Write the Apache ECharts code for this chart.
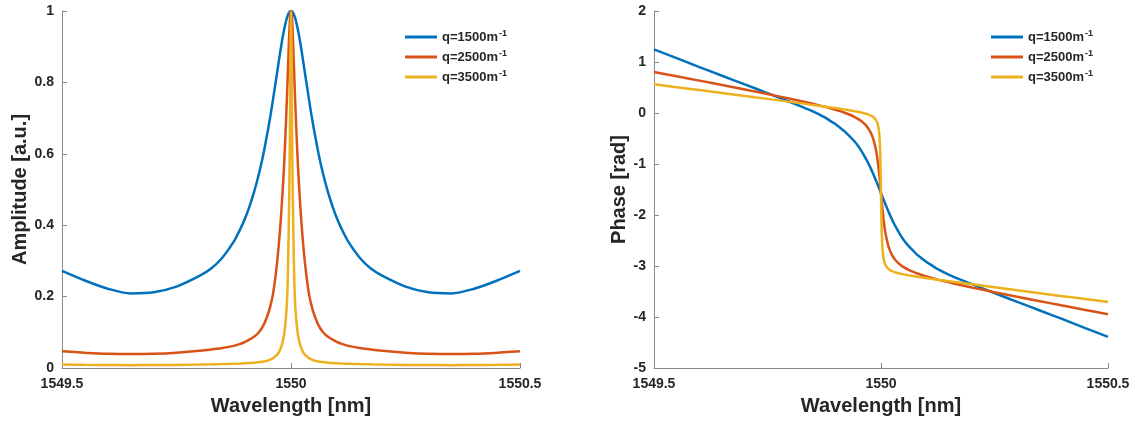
<!DOCTYPE html>
<html>
<head>
<meta charset="utf-8">
<script src="https://cdn.jsdelivr.net/npm/echarts@6/dist/echarts.min.js"></script>
<style>
html,body{margin:0;padding:0;background:#fff;}
#chart{width:1135px;height:424px;}
</style>
</head>
<body>
<div id="chart"></div>
<script>
const wavelength = [1549.5,1549.55,1549.6,1549.65,1549.7,1549.75,1549.8,1549.825,1549.85,1549.875,1549.89,1549.9,1549.91,1549.92,1549.93,1549.94,1549.95,1549.955,1549.96,1549.965,1549.97,1549.975,1549.98,1549.985,1549.99,1549.9925,1549.995,1549.997,1549.998,1549.999,
  1550,
  1550.001,1550.002,1550.003,1550.005,1550.0075,1550.01,1550.015,1550.02,1550.025,1550.03,1550.035,1550.04,1550.045,1550.05,1550.06,1550.07,1550.08,1550.09,1550.1,1550.11,1550.125,1550.15,1550.175,1550.2,1550.25,1550.3,1550.35,1550.4,1550.45,1550.5];

const ampQ1500 = [0.272,0.245,0.222,0.209,0.212,0.228,0.258,0.278,0.309,0.354,0.391,0.42,0.455,0.496,0.544,0.601,0.669,0.706,0.746,0.788,0.83,0.873,0.913,0.948,0.976,0.986,0.994,0.998,0.999,0.9998,
  1,
  0.9998,0.999,0.998,0.994,0.986,0.976,0.948,0.913,0.873,0.83,0.788,0.746,0.706,0.669,0.601,0.544,0.496,0.455,0.42,0.391,0.354,0.309,0.278,0.258,0.228,0.212,0.209,0.222,0.245,0.272];
const ampQ2500 = [0.047,0.043,0.040,0.039,0.040,0.043,0.048,0.052,0.056,0.062,0.068,0.073,0.08,0.088,0.1,0.12,0.152,0.174,0.202,0.245,0.30,0.37,0.46,0.57,0.72,0.806,0.898,0.959,0.981,0.995,
  1,
  0.995,0.981,0.959,0.898,0.806,0.72,0.57,0.46,0.37,0.30,0.245,0.202,0.174,0.152,0.12,0.1,0.088,0.08,0.073,0.068,0.062,0.056,0.052,0.048,0.043,0.040,0.039,0.040,0.043,0.047];
const ampQ3500 = [0.0098,0.0088,0.0082,0.008,0.0082,0.0087,0.0095,0.0102,0.011,0.012,0.0125,0.013,0.014,0.015,0.0165,0.018,0.021,0.024,0.027,0.032,0.038,0.048,0.065,0.094,0.16,0.23,0.387,0.574,0.724,0.903,
  1,
  0.903,0.724,0.574,0.387,0.23,0.16,0.094,0.065,0.048,0.038,0.032,0.027,0.024,0.021,0.018,0.0165,0.015,0.014,0.013,0.0125,0.012,0.011,0.0102,0.0095,0.0087,0.0082,0.008,0.0082,0.0088,0.0098];

const phaseQ1500 = [1.248,1.075,0.9,0.73,0.56,0.39,0.215,0.125,0.03,-0.08,-0.165,-0.22,-0.29,-0.36,-0.45,-0.54,-0.65,-0.718,-0.79,-0.868,-0.95,-1.04,-1.136,-1.239,-1.346,-1.402,-1.458,-1.503,-1.525,-1.548,
  -1.571,
  -1.594,-1.617,-1.639,-1.684,-1.74,-1.796,-1.903,-2.006,-2.102,-2.192,-2.274,-2.352,-2.424,-2.492,-2.602,-2.692,-2.782,-2.852,-2.922,-2.977,-3.062,-3.172,-3.267,-3.357,-3.532,-3.702,-3.872,-4.042,-4.217,-4.39];
const phaseQ2500 = [0.805,0.72,0.635,0.548,0.461,0.372,0.279,0.231,0.18,0.125,0.089,0.063,0.036,0.005,-0.029,-0.069,-0.119,-0.148,-0.184,-0.225,-0.279,-0.346,-0.438,-0.572,-0.779,-0.925,-1.107,-1.28,-1.374,-1.471,
  -1.571,
  -1.67,-1.768,-1.862,-2.035,-2.217,-2.363,-2.569,-2.704,-2.795,-2.863,-2.917,-2.958,-2.993,-3.023,-3.072,-3.112,-3.147,-3.177,-3.205,-3.231,-3.267,-3.321,-3.372,-3.421,-3.513,-3.603,-3.69,-3.776,-3.861,-3.946];
const phaseQ3500 = [0.563,0.506,0.449,0.392,0.334,0.277,0.218,0.189,0.159,0.128,0.109,0.096,0.083,0.069,0.055,0.04,0.023,0.013,0.003,-0.009,-0.023,-0.04,-0.062,-0.096,-0.157,-0.214,-0.322,-0.512,-0.702,-1.038,
  -1.571,
  -2.104,-2.439,-2.63,-2.819,-2.927,-2.985,-3.046,-3.08,-3.102,-3.119,-3.133,-3.144,-3.155,-3.164,-3.181,-3.197,-3.211,-3.225,-3.238,-3.251,-3.27,-3.3,-3.33,-3.36,-3.418,-3.476,-3.533,-3.591,-3.648,-3.705];

const seriesNames = ['q=1500m', 'q=2500m', 'q=3500m'];
const seriesColors = ['#0072BD', '#D95319', '#EDB120'];
const xTickLabels = {'1549.5': '1549.5', '1550': '1550', '1550.5': '1550.5'};

const FONT = '"Liberation Sans", Arial, sans-serif';
const AXIS_COLOR = '#8a8a8a';
const TEXT_COLOR = '#262626';

function zip(xs, ys) { return xs.map((x, i) => [x, ys[i]]); }

function xAxisCfg(gridIndex) {
  return {
    type: 'value', gridIndex: gridIndex,
    min: 1549.5, max: 1550.5, interval: 0.5,
    name: 'Wavelength [nm]', nameLocation: 'middle', nameGap: 28,
    nameTextStyle: {fontFamily: FONT, fontSize: 20, fontWeight: 'bold', color: TEXT_COLOR},
    axisLine: {show: true, onZero: false, lineStyle: {color: AXIS_COLOR, width: 1}},
    axisTick: {show: true, inside: true, length: 5, lineStyle: {color: AXIS_COLOR}},
    axisLabel: {fontFamily: FONT, fontSize: 14, fontWeight: 'bold', color: TEXT_COLOR, margin: 9,
      formatter: v => xTickLabels[String(v)] !== undefined ? xTickLabels[String(v)] : String(v)},
    splitLine: {show: false}
  };
}

function yAxisCfg(gridIndex, name, min, max, interval, gap) {
  return {
    type: 'value', gridIndex: gridIndex,
    min: min, max: max, interval: interval,
    name: name, nameLocation: 'middle', nameGap: gap,
    nameTextStyle: {fontFamily: FONT, fontSize: 20, fontWeight: 'bold', color: TEXT_COLOR},
    axisLine: {show: true, onZero: false, lineStyle: {color: AXIS_COLOR, width: 1}},
    axisTick: {show: true, inside: true, length: 5, lineStyle: {color: AXIS_COLOR}},
    axisLabel: {fontFamily: FONT, fontSize: 14, fontWeight: 'bold', color: TEXT_COLOR, margin: 8},
    splitLine: {show: false}
  };
}

function legendCfg(left) {
  return {
    orient: 'vertical', left: left, top: 29,
    itemWidth: 32, itemHeight: 3, itemGap: 2, padding: 0,
    icon: 'rect',
    data: seriesNames,
    formatter: n => '{b|' + n + '}{sup|-1}',
    textStyle: {
      fontFamily: FONT, color: TEXT_COLOR,
      rich: {
        b: {fontFamily: FONT, fontSize: 13, fontWeight: 'bold', color: TEXT_COLOR, lineHeight: 16},
        sup: {fontFamily: FONT, fontSize: 9, fontWeight: 'bold', color: TEXT_COLOR, verticalAlign: 'top', lineHeight: 16, padding: [0, 0, 9, 1]}
      }
    },
    selectedMode: false
  };
}

const ampData = [ampQ1500, ampQ2500, ampQ3500];
const phaseData = [phaseQ1500, phaseQ2500, phaseQ3500];

const series = [];
ampData.forEach((arr, i) => {
  series.push({
    name: seriesNames[i], type: 'line', xAxisIndex: 0, yAxisIndex: 0,
    data: zip(wavelength, arr), showSymbol: false, symbol: 'none',
    smooth: 0.3,
    lineStyle: {color: seriesColors[i], width: 2.5}, itemStyle: {color: seriesColors[i]},
    z: 2 + i, animation: false
  });
});
phaseData.forEach((arr, i) => {
  series.push({
    name: seriesNames[i], type: 'line', xAxisIndex: 1, yAxisIndex: 1,
    data: zip(wavelength, arr), showSymbol: false, symbol: 'none',
    smooth: 0.3,
    lineStyle: {color: seriesColors[i], width: 2.5}, itemStyle: {color: seriesColors[i]},
    z: 2 + i, animation: false
  });
});

const chart = echarts.init(document.getElementById('chart'), null, {renderer: 'canvas'});
chart.setOption({
  animation: false,
  backgroundColor: '#ffffff',
  grid: [
    {left: 62, top: 11, width: 458, height: 357, containLabel: false},
    {left: 654, top: 11, width: 454, height: 357, containLabel: false}
  ],
  xAxis: [xAxisCfg(0), xAxisCfg(1)],
  yAxis: [
    yAxisCfg(0, 'Amplitude [a.u.]', 0, 1, 0.2, 28),
    yAxisCfg(1, 'Phase [rad]', -5, 2, 1, 19)
  ],
  legend: [legendCfg(405), legendCfg(991)],
  series: series
});
</script>
</body>
</html>
